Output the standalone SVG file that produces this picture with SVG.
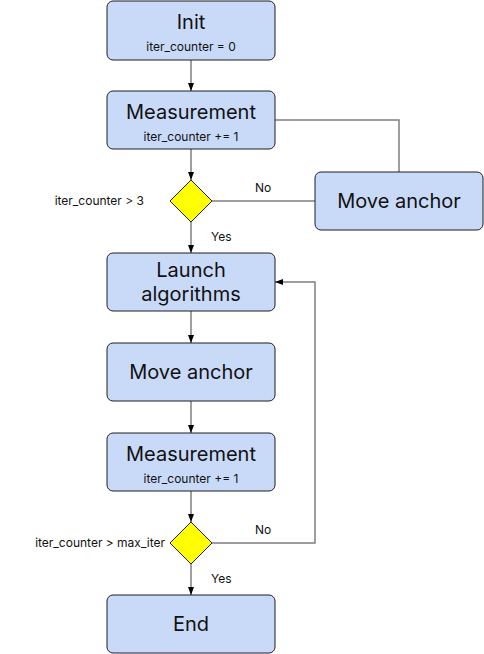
<svg xmlns="http://www.w3.org/2000/svg" width="484" height="654" viewBox="0 0 484 654">
<style>
.box{fill:#c9daf8;stroke:#1f1f1f;stroke-width:1}
.dia{fill:#ffff00;stroke:#1f1f1f;stroke-width:1}
.t{font-family:Inter,"Noto Sans",sans-serif;font-size:20px;fill:#111;text-anchor:middle}
.s{font-family:Inter,"Noto Sans",sans-serif;font-size:12px;fill:#111;text-anchor:middle}
.l{font-family:Inter,"Noto Sans",sans-serif;font-size:12px;fill:#111}
.c{fill:none;stroke:#7f7f7f;stroke-width:1.5}
</style>
<defs>
<marker id="ah" viewBox="0 0 8 6" refX="8" refY="3" markerWidth="8" markerHeight="6" markerUnits="userSpaceOnUse" orient="auto">
<path d="M0,0 L8,3 L0,6 Z" fill="#000"/>
</marker>
</defs>
<g id="connectors">
<line class="c" x1="191" y1="60" x2="191" y2="91" marker-end="url(#ah)"/>
<line class="c" x1="191" y1="149" x2="191" y2="180" marker-end="url(#ah)"/>
<line class="c" x1="191" y1="222" x2="191" y2="253" marker-end="url(#ah)"/>
<line class="c" x1="212" y1="201" x2="315" y2="201"/>
<polyline class="c" points="399,172 399,120 275,120"/>
<line class="c" x1="191" y1="311" x2="191" y2="343" marker-end="url(#ah)"/>
<line class="c" x1="191" y1="401" x2="191" y2="433" marker-end="url(#ah)"/>
<line class="c" x1="191" y1="491" x2="191" y2="522" marker-end="url(#ah)"/>
<line class="c" x1="191" y1="564" x2="191" y2="595" marker-end="url(#ah)"/>
<polyline class="c" points="212,543 315,543 315,282 275,282" marker-end="url(#ah)"/>
<text class="l" x="255" y="192">No</text>
<text class="l" x="211" y="241">Yes</text>
<text class="l" x="255" y="534">No</text>
<text class="l" x="211" y="583">Yes</text>
</g>
<g id="init">
<rect class="box" x="107" y="1" width="168" height="59" rx="6"/>
<text class="t" x="191" y="29">Init</text>
<text class="s" x="191" y="51">iter_counter = 0</text>
</g>
<g id="measurement1">
<rect class="box" x="107" y="91" width="168" height="58" rx="6"/>
<text class="t" x="191" y="119">Measurement</text>
<text class="s" x="191" y="141">iter_counter += 1</text>
</g>
<g id="decision1">
<polygon class="dia" points="191,180 212,201 191,222 170,201"/>
<text class="l" x="144" y="205" text-anchor="end">iter_counter &gt; 3</text>
</g>
<g id="moveanchor1">
<rect class="box" x="315" y="172" width="168" height="58" rx="6"/>
<text class="t" x="399" y="208">Move anchor</text>
</g>
<g id="launch">
<rect class="box" x="107" y="253" width="168" height="58" rx="6"/>
<text class="t" x="191" y="277">Launch</text>
<text class="t" x="191" y="301">algorithms</text>
</g>
<g id="moveanchor2">
<rect class="box" x="107" y="343" width="168" height="58" rx="6"/>
<text class="t" x="191" y="379">Move anchor</text>
</g>
<g id="measurement2">
<rect class="box" x="107" y="433" width="168" height="58" rx="6"/>
<text class="t" x="191" y="461">Measurement</text>
<text class="s" x="191" y="483">iter_counter += 1</text>
</g>
<g id="decision2">
<polygon class="dia" points="191,522 212,543 191,564 170,543"/>
<text class="l" x="165" y="547" text-anchor="end">iter_counter &gt; max_iter</text>
</g>
<g id="end">
<rect class="box" x="107" y="595" width="168" height="58" rx="6"/>
<text class="t" x="191" y="631">End</text>
</g>
</svg>
